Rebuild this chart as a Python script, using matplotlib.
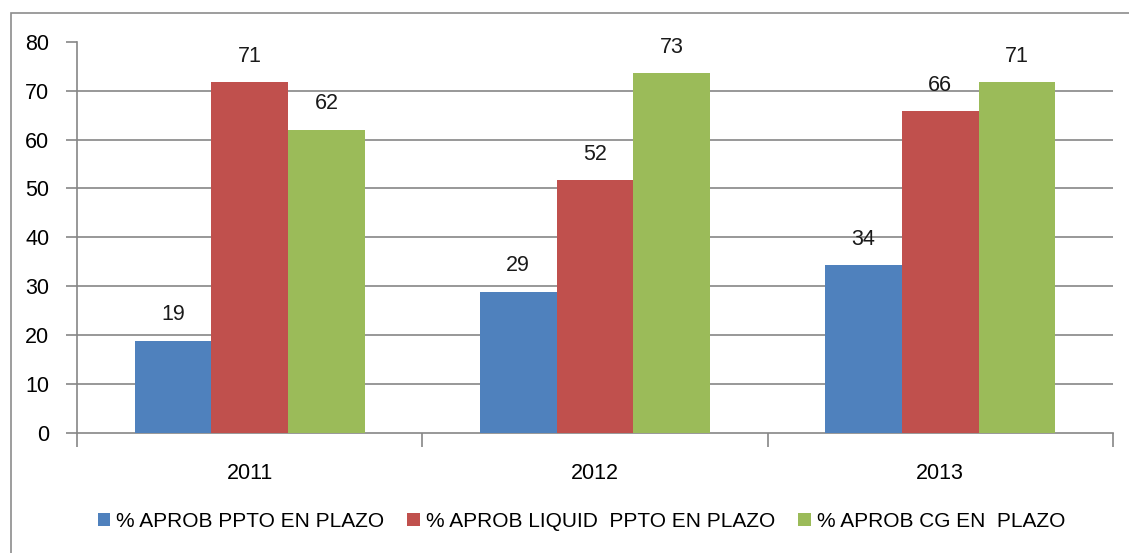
import numpy as np
import matplotlib.pyplot as plt
from matplotlib.patches import Rectangle

plt.rcParams['font.family'] = ['Liberation Sans', 'DejaVu Sans']

years = ['2011', '2012', '2013']
series_names = ['% APROB PPTO EN PLAZO', '% APROB LIQUID  PPTO EN PLAZO', '% APROB CG EN  PLAZO']
ppto = [18.8, 28.9, 34.3]
liquid = [71.7, 51.7, 65.8]
cg = [62.0, 73.6, 71.7]
ppto_lbl = [19, 29, 34]
liquid_lbl = [71, 52, 66]
cg_lbl = [62, 73, 71]

colors = ['#4F81BD', '#C0504D', '#9BBB59']
grid_col = '#868686'

fig = plt.figure(figsize=(11.29, 5.53), dpi=100)
ax = fig.add_axes([0.0682, 0.2175, 0.9176, 0.7069])

# frame around the chart
fig.patches.append(Rectangle((11 / 1129, -0.1), 1.2, 1 - 13 / 553 + 0.1,
                             transform=fig.transFigure, fill=False,
                             edgecolor='#8c8c8c', linewidth=1.2))

x = np.arange(len(years))
w = 1 / 4.5
vals = [ppto, liquid, cg]
lbls = [ppto_lbl, liquid_lbl, cg_lbl]
for i in range(3):
    bars = ax.bar(x + (i - 1) * w, vals[i], width=w, color=colors[i],
                  label=series_names[i], zorder=3)
    for b, t in zip(bars, lbls[i]):
        ax.annotate(str(t), (b.get_x() + b.get_width() / 2, b.get_height()),
                    xytext=(0, 26), textcoords='offset pixels',
                    ha='center', va='center', fontsize=15.5, color='#1a1a1a')

ax.set_xlim(-0.5, 2.5)
ax.set_ylim(0, 80)
ax.set_yticks(range(0, 81, 10))
for yv in range(10, 80, 10):
    ax.axhline(yv, color=grid_col, linewidth=1.2, zorder=1)

ax.set_xticks(x)
ax.set_xticklabels(years)
ax.set_xticks([-0.5, 0.5, 1.5, 2.5], minor=True)
ax.tick_params(axis='x', which='major', length=0, pad=22, labelsize=15.5)
ax.tick_params(axis='x', which='minor', length=10, color=grid_col, width=1.2)
ax.tick_params(axis='y', length=8, color=grid_col, width=1.2, labelsize=15.5, pad=12)

for s in ['top', 'right']:
    ax.spines[s].set_visible(False)
for s in ['left', 'bottom']:
    ax.spines[s].set_color(grid_col)
    ax.spines[s].set_linewidth(1.2)

leg = fig.legend(loc='center', bbox_to_anchor=(0.515, 0.057), ncol=3, frameon=False,
                 fontsize=15, handlelength=0.6, handleheight=0.6, handletextpad=0.3,
                 columnspacing=1.1)

fig.savefig('out.png', dpi=100)
